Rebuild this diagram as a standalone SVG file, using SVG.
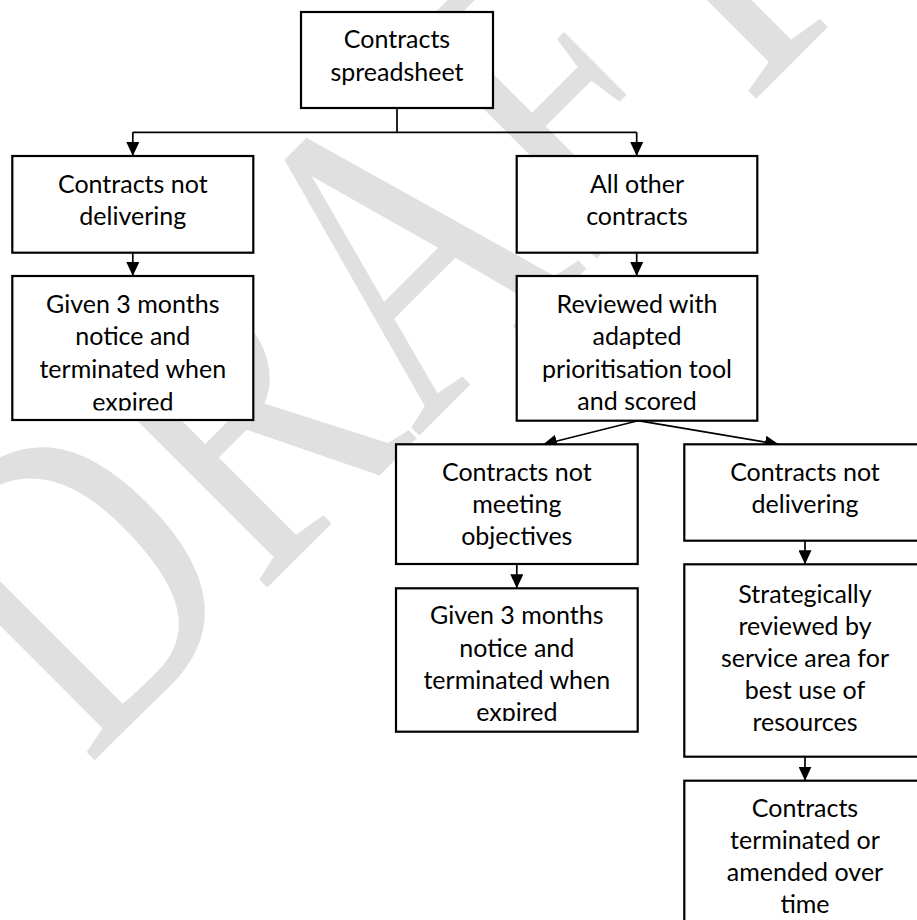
<svg xmlns="http://www.w3.org/2000/svg" width="917" height="920" viewBox="0 0 917 920">
<defs>
<style>
.box{fill:#fff;stroke:#000;stroke-width:2.2}
.lbl{font-family:Lato,"Liberation Sans",sans-serif;font-size:25px;fill:#000;text-anchor:middle}
.con{fill:none;stroke:#000;stroke-width:1.7}
.arr{marker-end:url(#ah)}
.wm{font-family:"Liberation Serif","Times New Roman",serif;font-size:100px;fill:#e0e0e0}
</style>
<marker id="ah" viewBox="0 0 14 13" refX="14" refY="6.5" markerWidth="14" markerHeight="13" markerUnits="userSpaceOnUse" orient="auto">
<path d="M0,0 L14,6.5 L0,13 Z" fill="#000"/>
</marker>
<clipPath id="clipL2"><rect x="12" y="276" width="242" height="134.5"/></clipPath>
<clipPath id="clipM2"><rect x="396" y="588" width="242" height="133"/></clipPath>
</defs>
<rect width="917" height="920" fill="#fff"/>
<g id="watermark">
<text class="wm" transform="translate(88,767) rotate(-45) scale(3.35,4.4)" x="0" y="0">DRAFT</text>
</g>
<g id="connectors">
<path class="con" d="M397,108 V132.3"/>
<path class="con" d="M132.8,132.3 H636.7"/>
<path class="con arr" d="M132.8,132.3 V156"/>
<path class="con arr" d="M636.7,132.3 V156"/>
<path class="con arr" d="M132.8,252.7 V276"/>
<path class="con arr" d="M636.7,252.7 V276"/>
<path class="con arr" d="M638,420.7 L543,444.5"/>
<path class="con arr" d="M638,420.7 L779,444.5"/>
<path class="con arr" d="M516.8,564 V588.3"/>
<path class="con arr" d="M805,540.7 V564.3"/>
<path class="con arr" d="M805,756.7 V780.7"/>
</g>
<g id="n-spreadsheet">
<rect class="box" x="301" y="12" width="192" height="96"/>
<text class="lbl" x="397" y="48.3">Contracts</text>
<text class="lbl" x="397" y="80.5">spreadsheet</text>
</g>
<g id="n-not-delivering-left">
<rect class="box" x="12.3" y="156" width="241" height="96.7"/>
<text class="lbl" x="132.8" y="192.7">Contracts not</text>
<text class="lbl" x="132.8" y="225">delivering</text>
</g>
<g id="n-notice-left">
<rect class="box" x="12.3" y="276" width="241" height="144"/>
<g clip-path="url(#clipL2)">
<text class="lbl" x="132.8" y="312.7">Given 3 months</text>
<text class="lbl" x="132.8" y="345">notice and</text>
<text class="lbl" x="132.8" y="378.2">terminated when</text>
<text class="lbl" x="132.8" y="410.5">expired</text>
</g>
</g>
<g id="n-all-other">
<rect class="box" x="516.7" y="156" width="240.6" height="96.7"/>
<text class="lbl" x="637" y="192.7">All other</text>
<text class="lbl" x="637" y="225">contracts</text>
</g>
<g id="n-reviewed">
<rect class="box" x="516.7" y="276" width="240.6" height="144.7"/>
<text class="lbl" x="637" y="312.7">Reviewed with</text>
<text class="lbl" x="637" y="345">adapted</text>
<text class="lbl" x="637" y="377.5">prioritisation tool</text>
<text class="lbl" x="637" y="409.5">and scored</text>
</g>
<g id="n-not-meeting">
<rect class="box" x="396" y="444.3" width="241.7" height="119.7"/>
<text class="lbl" x="516.8" y="480.7">Contracts not</text>
<text class="lbl" x="516.8" y="513">meeting</text>
<text class="lbl" x="516.8" y="545.2">objectives</text>
</g>
<g id="n-notice-mid">
<rect class="box" x="396" y="588.3" width="241.7" height="143.4"/>
<g clip-path="url(#clipM2)">
<text class="lbl" x="516.8" y="624.3">Given 3 months</text>
<text class="lbl" x="516.8" y="656.6">notice and</text>
<text class="lbl" x="516.8" y="688.8">terminated when</text>
<text class="lbl" x="516.8" y="721">expired</text>
</g>
</g>
<g id="n-not-delivering-right">
<rect class="box" x="684.3" y="444.3" width="241.4" height="96.4"/>
<text class="lbl" x="805" y="480.7">Contracts not</text>
<text class="lbl" x="805" y="512.6">delivering</text>
</g>
<g id="n-strategic">
<rect class="box" x="684.3" y="564.3" width="241.4" height="192.4"/>
<text class="lbl" x="805" y="602.5">Strategically</text>
<text class="lbl" x="805" y="634.7">reviewed by</text>
<text class="lbl" x="805" y="666.9">service area for</text>
<text class="lbl" x="805" y="699.1">best use of</text>
<text class="lbl" x="805" y="730.5">resources</text>
</g>
<g id="n-terminated">
<rect class="box" x="684.3" y="780.7" width="241.4" height="160"/>
<text class="lbl" x="805" y="816.7">Contracts</text>
<text class="lbl" x="805" y="848.9">terminated or</text>
<text class="lbl" x="805" y="881.1">amended over</text>
<text class="lbl" x="805" y="913">time</text>
</g>
</svg>
